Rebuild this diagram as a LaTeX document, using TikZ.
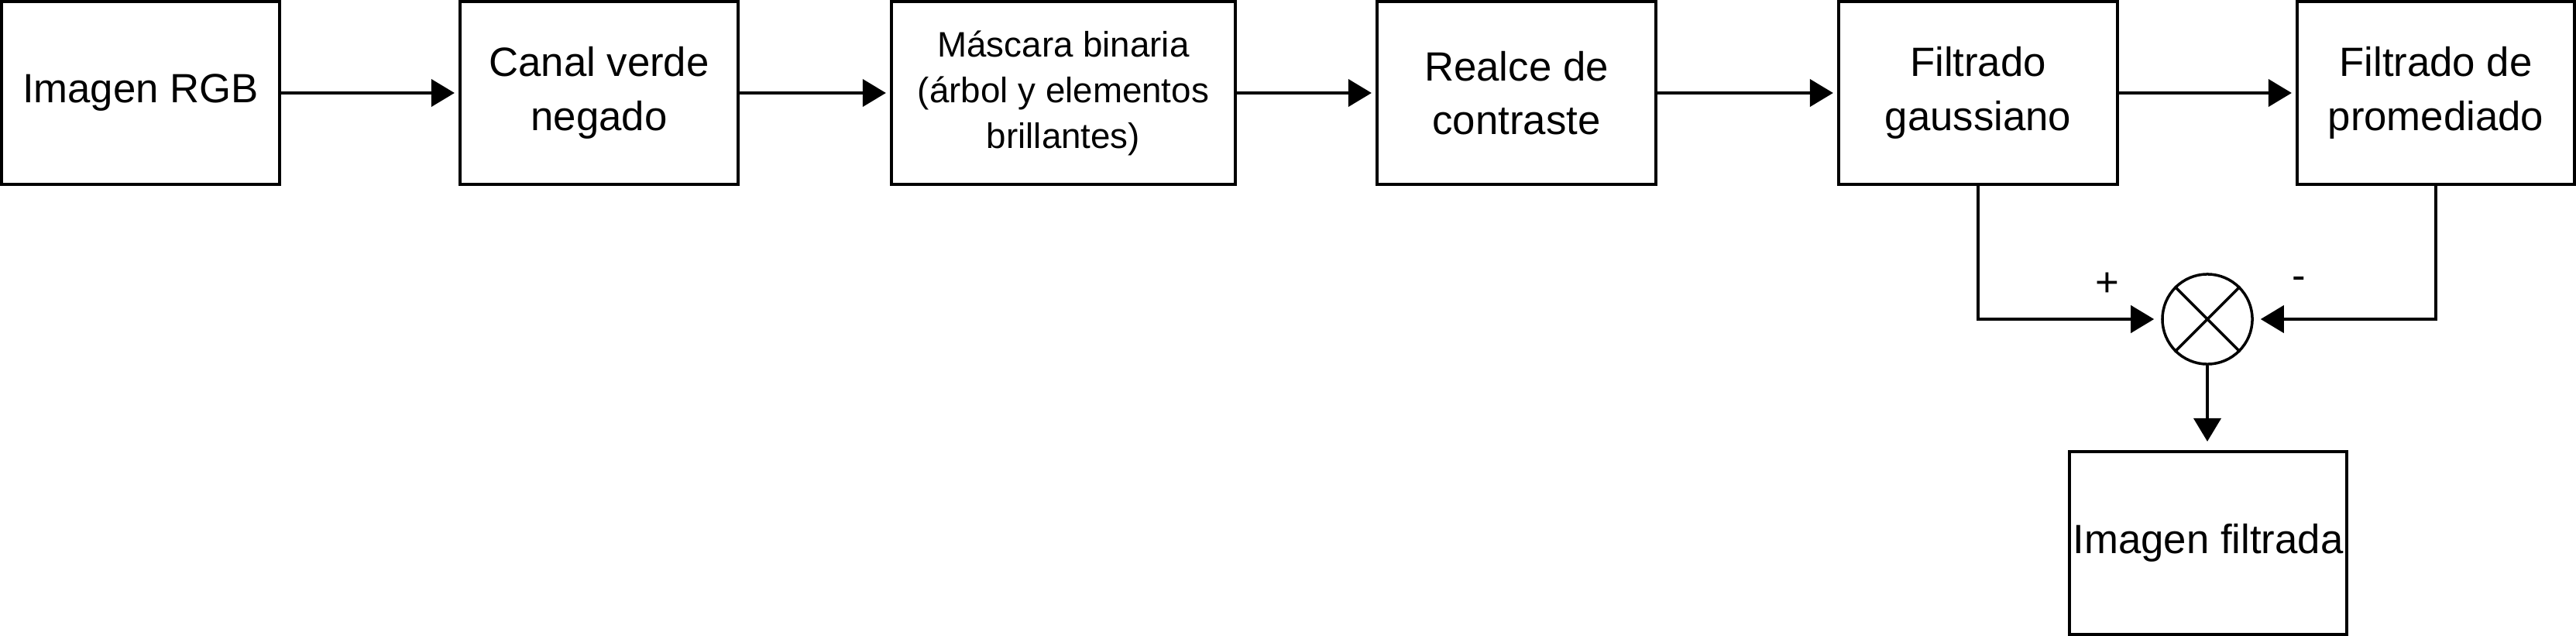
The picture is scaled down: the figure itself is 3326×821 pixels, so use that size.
\documentclass[tikz,border=0pt]{standalone}
\usepackage{fontspec}
\setmainfont{Liberation Sans}
\usetikzlibrary{arrows.meta}
\begin{document}
\begin{tikzpicture}[x=0.01cm,y=-0.01cm,
  box/.style={draw, line width=0.04cm, minimum width=3.59cm, minimum height=2.36cm,
    align=center, inner sep=0pt, font=\fontsize{15}{19.8}\selectfont},
  smallbox/.style={box, font=\fontsize{13}{16.8}\selectfont},
  arr/.style={line width=0.04cm, -{Triangle[length=0.3cm,width=0.35cm]}, shorten >=0.05cm},
  lbl/.style={inner sep=0pt, font=\fontsize{15}{18}\selectfont}]
\useasboundingbox (0,0) rectangle (3326,821);
\node[box] (rgb) at (181.5,120) {Imagen RGB};
\node[box] (canal) at (773.5,120) {Canal verde\\negado};
\node[smallbox, minimum width=4.44cm] (mask) at (1373,120) {Máscara binaria\\(árbol y elementos\\brillantes)};
\node[box, minimum width=3.60cm] (realce) at (1958,120) {Realce de\\contraste};
\node[box, minimum width=3.60cm] (gauss) at (2554,120) {Filtrado\\gaussiano};
\node[box, minimum width=3.58cm] (prom) at (3145,120) {Filtrado de\\promediado};
\node[draw, circle, line width=0.035cm, minimum size=1.16cm, inner sep=0pt] (sum) at (2850,412) {};
\node[box, minimum width=3.58cm] (out) at (2851,701) {Imagen filtrada};
\node[lbl] (plus) at (2721,367) {+};
\node[lbl] (minus) at (2968,365) {-};
\draw[line width=0.035cm] (sum.north west) -- (sum.south east) (sum.north east) -- (sum.south west);
\draw[arr] (rgb) -- (canal);
\draw[arr] (canal) -- (mask);
\draw[arr] (mask) -- (realce);
\draw[arr] (realce) -- (gauss);
\draw[arr] (gauss) -- (prom);
\draw[arr, shorten >=0.09cm] (gauss.south) |- (sum.west);
\draw[arr, shorten >=0.09cm] (prom.south) |- (sum.east);
\draw[arr, shorten >=0.11cm] (sum.south) -- (sum.south |- out.north);
\end{tikzpicture}
\end{document}
